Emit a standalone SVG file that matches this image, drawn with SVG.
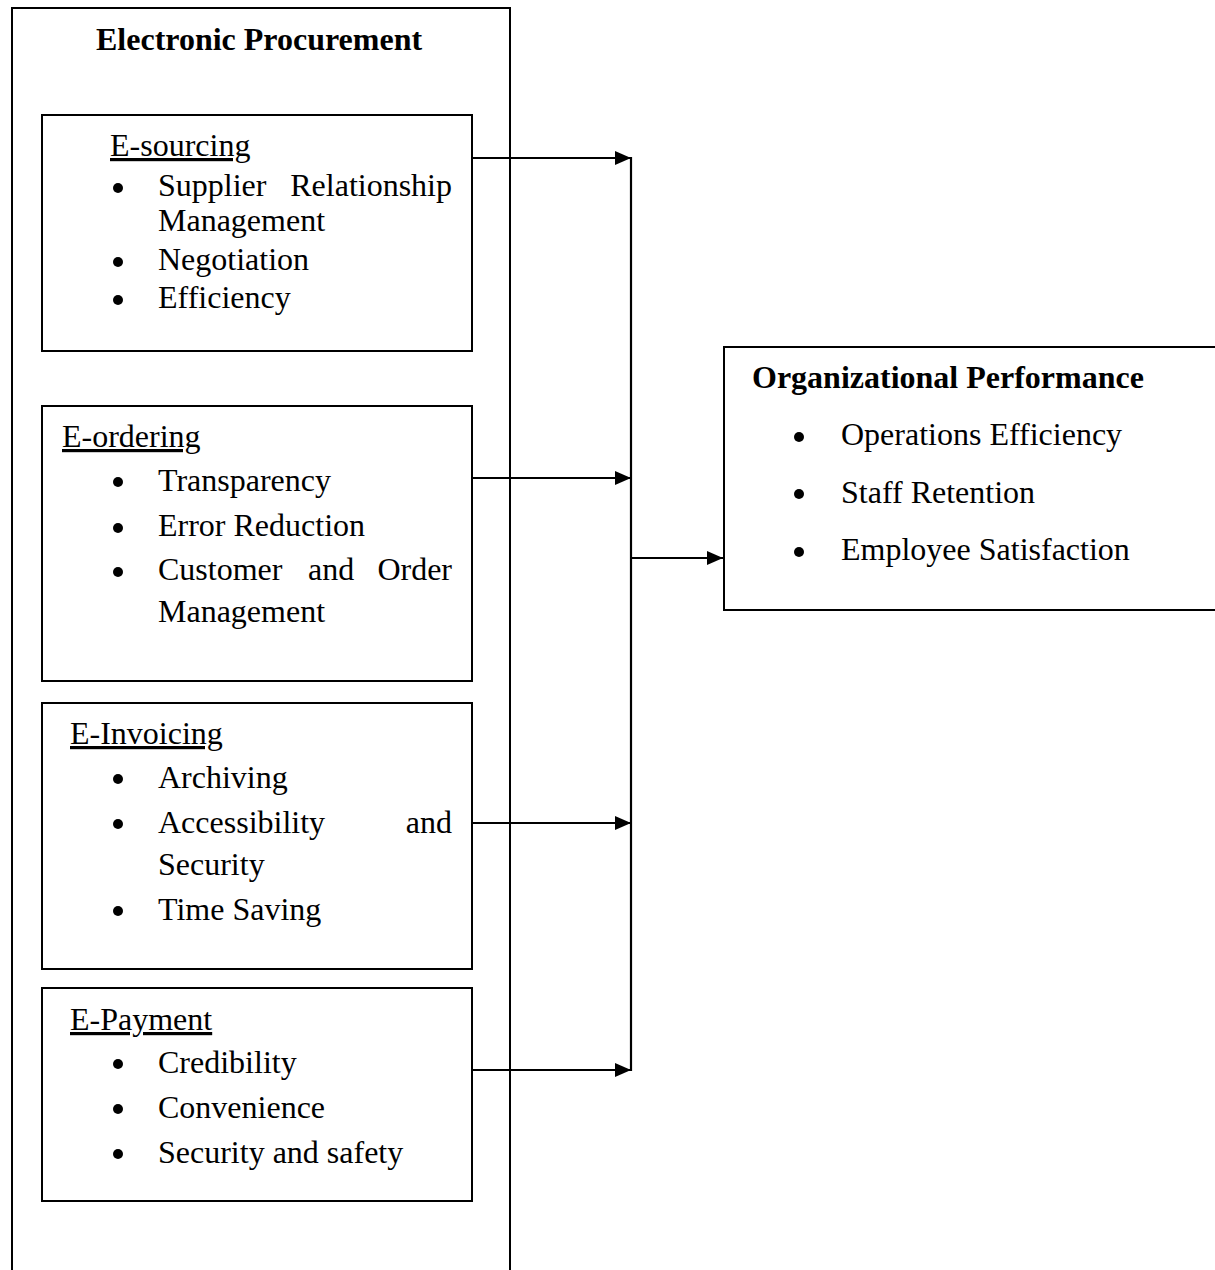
<svg xmlns="http://www.w3.org/2000/svg" width="1215" height="1270" viewBox="0 0 1215 1270">
<defs>
<style>
.box{fill:none;stroke:#000;stroke-width:2}
.t{font-family:"Liberation Serif","Times New Roman",serif;font-size:32px;fill:#000}
.b{font-weight:bold}
.u{text-decoration:underline}
.e{text-anchor:end}
.dot{fill:#000}
.ln{fill:none;stroke:#000;stroke-width:2.2}
</style>
<marker id="ah" markerUnits="userSpaceOnUse" markerWidth="16" markerHeight="14" refX="16" refY="7" orient="auto">
<path d="M0,0 L16,7 L0,14 Z" fill="#000"/>
</marker>
</defs>
<rect width="1215" height="1270" fill="#fff"/>

<g id="electronic-procurement">
<rect class="box" x="12" y="8" width="498" height="1280"/>
<text class="t b" x="96" y="50">Electronic Procurement</text>
</g>

<g id="e-sourcing">
<rect class="box" x="42" y="115" width="430" height="236"/>
<text class="t u" x="110" y="156">E-sourcing</text>
<circle class="dot" cx="118" cy="188" r="5"/>
<text class="t" x="158" y="196">Supplier</text>
<text class="t e" x="452" y="196">Relationship</text>
<text class="t" x="158" y="231">Management</text>
<circle class="dot" cx="118" cy="262" r="5"/>
<text class="t" x="158" y="270">Negotiation</text>
<circle class="dot" cx="118" cy="300" r="5"/>
<text class="t" x="158" y="308">Efficiency</text>
</g>

<g id="e-ordering">
<rect class="box" x="42" y="406" width="430" height="275"/>
<text class="t u" x="62" y="447">E-ordering</text>
<circle class="dot" cx="118" cy="482" r="5"/>
<text class="t" x="158" y="491">Transparency</text>
<circle class="dot" cx="118" cy="528" r="5"/>
<text class="t" x="158" y="536">Error Reduction</text>
<circle class="dot" cx="118" cy="572" r="5"/>
<text class="t" x="158" y="580">Customer</text>
<text class="t" x="308" y="580">and</text>
<text class="t e" x="452" y="580">Order</text>
<text class="t" x="158" y="622">Management</text>
</g>

<g id="e-invoicing">
<rect class="box" x="42" y="703" width="430" height="266"/>
<text class="t u" x="70" y="744">E-Invoicing</text>
<circle class="dot" cx="118" cy="779" r="5"/>
<text class="t" x="158" y="788">Archiving</text>
<circle class="dot" cx="118" cy="824" r="5"/>
<text class="t" x="158" y="833">Accessibility</text>
<text class="t e" x="452" y="833">and</text>
<text class="t" x="158" y="875">Security</text>
<circle class="dot" cx="118" cy="911" r="5"/>
<text class="t" x="158" y="920">Time Saving</text>
</g>

<g id="e-payment">
<rect class="box" x="42" y="988" width="430" height="213"/>
<text class="t u" x="70" y="1030">E-Payment</text>
<circle class="dot" cx="118" cy="1064" r="5"/>
<text class="t" x="158" y="1073">Credibility</text>
<circle class="dot" cx="118" cy="1109" r="5"/>
<text class="t" x="158" y="1118">Convenience</text>
<circle class="dot" cx="118" cy="1154" r="5"/>
<text class="t" x="158" y="1163">Security and safety</text>
</g>

<g id="organizational-performance">
<rect class="box" x="724" y="347" width="520" height="263"/>
<text class="t b" x="752" y="388">Organizational Performance</text>
<circle class="dot" cx="799" cy="437" r="5"/>
<text class="t" x="841" y="445">Operations Efficiency</text>
<circle class="dot" cx="799" cy="494" r="5"/>
<text class="t" x="841" y="503">Staff Retention</text>
<circle class="dot" cx="799" cy="552" r="5"/>
<text class="t" x="841" y="560">Employee Satisfaction</text>
</g>

<g id="connectors">
<line class="ln" x1="472" y1="158" x2="631" y2="158" marker-end="url(#ah)"/>
<line class="ln" x1="472" y1="478" x2="631" y2="478" marker-end="url(#ah)"/>
<line class="ln" x1="472" y1="823" x2="631" y2="823" marker-end="url(#ah)"/>
<line class="ln" x1="472" y1="1070" x2="631" y2="1070" marker-end="url(#ah)"/>
<line class="ln" x1="631" y1="157" x2="631" y2="1071"/>
<line class="ln" x1="631" y1="558" x2="723" y2="558" marker-end="url(#ah)"/>
</g>
</svg>
